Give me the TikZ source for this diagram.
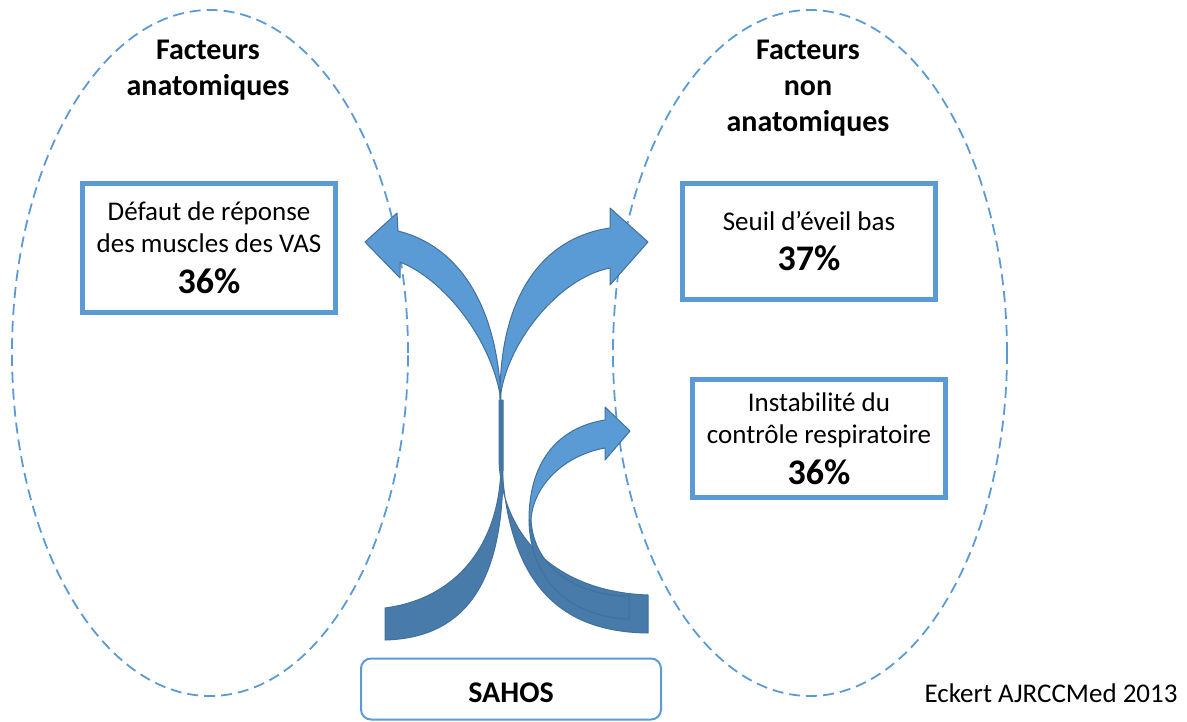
\documentclass[tikz,border=0pt]{standalone}
\usepackage{fontspec}
\setmainfont{Carlito}
\usepackage{tikz}
\usetikzlibrary{shapes}
\definecolor{ppt_blue}{RGB}{91, 155, 213}
\definecolor{ppt_dark}{RGB}{72, 123, 170}
\definecolor{ppt_line}{RGB}{65, 113, 156}
\tikzstyle{el}=[ellipse,draw=ppt_blue,line width=1.8pt,dash pattern=on 11pt off 6pt,
  minimum width=396pt,minimum height=686pt,inner sep=0pt]
\tikzstyle{tt}=[align=center,font=\fontsize{30}{36}\selectfont\bfseries]
\tikzstyle{fb}=[rectangle,draw=ppt_blue,line width=4.5pt,align=center,
  font=\fontsize{27}{32}\selectfont,minimum width=253pt,inner sep=0pt]
\tikzstyle{sb}=[rectangle,rounded corners=10pt,draw=ppt_blue,line width=2pt,
  minimum width=300pt,minimum height=61pt,font=\fontsize{30}{36}\selectfont\bfseries,
  text height=27pt,text depth=0pt]
\tikzstyle{front}=[fill=ppt_blue,draw=ppt_line,line width=1pt,line join=round]
\tikzstyle{back}=[fill=ppt_dark,draw=ppt_line,line width=1pt,line join=round]
\newcommand{\pct}[1]{{\fontsize{36}{40}\selectfont\bfseries #1}}

\begin{document}
\begin{tikzpicture}[x=1pt,y=-1pt]
    \useasboundingbox (0,0) rectangle (1187,721);
    \node [style=el] (anat) at (210,353) {};
    \node [style=el,minimum width=394pt] (nonanat) at (810,353) {};
    \node [style=tt] (anatt) at (208,70.5) {Facteurs\\anatomiques};
    \node [style=tt] (nonanatt) at (808,88.5) {Facteurs\\non\\anatomiques};
    \node [style=fb,minimum height=129pt] (vas) at (209,248)
      {Défaut de réponse\\des muscles des VAS\\[9pt]\pct{36\%}};
    \node [style=fb,minimum height=116pt] (eveil) at (809,241.5)
      {Seuil d’éveil bas\\[8pt]\pct{37\%}};
    \node [style=fb,minimum height=118pt] (ctrl) at (819,438.5)
      {Instabilité du\\contrôle respiratoire\\[9pt]\pct{36\%}};
    \node [style=sb] (sahos) at (511,689) {SAHOS};
    \node [anchor=base,font=\fontsize{27}{32}\selectfont] (ref) at (1051,702)
      {Eckert AJRCCMed 2013};
    \draw [style=back] (501,400) -- (501,460) .. controls (502,540) and (460,598) .. (385,608)
      -- (385,640) .. controls (460,638) and (503,590) .. (503,470) -- (503,400) -- cycle;
    \draw [style=back] (499,400) -- (499,460) .. controls (502,540) and (560,592) .. (648,595)
      -- (648,633) .. controls (565,632) and (502,590) .. (501,440) -- (501,400) -- cycle;
    \draw [style=back] (531,520) .. controls (534,570) and (580,596) .. (629,596)
      -- (629,619) .. controls (570,617) and (530,580) .. (529,520) -- cycle;
    \draw [style=front] (501,400) .. controls (497,300) and (455,245) .. (398,231)
      -- (397,213) -- (365,242) -- (400,278) -- (400,262)
      .. controls (445,280) and (492,340) .. (501,400) -- cycle;
    \draw [style=front] (500,400) .. controls (499,300) and (540,238) .. (610,228)
      -- (610,208) -- (648,242) -- (610,285) -- (610,268)
      .. controls (558,278) and (505,345) .. (500,400) -- cycle;
    \draw [style=front] (529,520) .. controls (529,465) and (555,428) .. (605,420)
      -- (605,407) -- (630,431) -- (605,460) -- (605,448)
      .. controls (565,455) and (533,485) .. (531,520) -- cycle;
  \end{tikzpicture}
\end{document}
